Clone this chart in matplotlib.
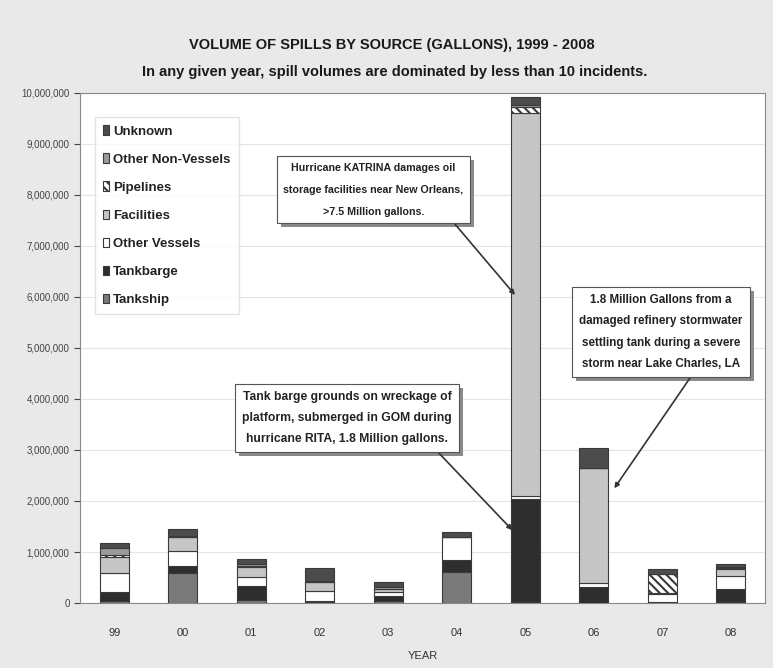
import numpy as np
import matplotlib
matplotlib.use('Agg')
import matplotlib.pyplot as plt
from matplotlib.ticker import FuncFormatter
from matplotlib.patches import Rectangle
from matplotlib.transforms import IdentityTransform

years = ['99', '00', '01', '02', '03', '04', '05', '06', '07', '08']
sources = ['Tankship', 'Tankbarge', 'Other Vessels', 'Facilities', 'Pipelines', 'Other Non-Vessels', 'Unknown']

# gallons
tankship      = [30000, 580000, 60000, 20000, 40000, 610000, 20000, 0, 0, 20000]
tankbarge     = [180000, 140000, 270000, 20000, 100000, 230000, 2020000, 310000, 20000, 260000]
other_vessels = [370000, 300000, 180000, 200000, 80000, 450000, 60000, 80000, 150000, 240000]
facilities    = [330000, 280000, 200000, 170000, 60000, 0, 7500000, 2250000, 30000, 140000]
pipelines     = [30000, 0, 20000, 0, 0, 0, 120000, 0, 370000, 20000]
non_vessels   = [140000, 20000, 30000, 20000, 30000, 0, 50000, 0, 0, 20000]
unknown       = [100000, 130000, 100000, 250000, 100000, 100000, 150000, 390000, 100000, 60000]

series = [tankship, tankbarge, other_vessels, facilities, pipelines, non_vessels, unknown]
colors = ['#7a7a7a', '#2e2e2e', '#ffffff', '#c6c6c6', '#ffffff', '#9a9a9a', '#4c4c4c']
hatches = [None, None, None, None, '\\\\\\\\', None, None]

plt.rcParams['font.family'] = ['Liberation Sans', 'DejaVu Sans']
plt.rcParams['hatch.linewidth'] = 1.5

fig = plt.figure(figsize=(7.73, 6.68), dpi=100)
fig.patch.set_facecolor('#e9e9e9')
ax = fig.add_axes([0.1035, 0.0973, 0.8862, 0.7635])
ax.set_facecolor('white')

x = np.arange(len(years))
bottom = np.zeros(len(years))
handles = []
for name, vals, c, h in zip(sources, series, colors, hatches):
    b = ax.bar(x, vals, 0.42, bottom=bottom, color=c, edgecolor='#3a3a3a',
               linewidth=0.8, hatch=h, label=name, zorder=3)
    handles.append(b)
    bottom += np.array(vals)

ax.set_xlim(-0.5, len(years) - 0.5)
ax.set_ylim(0, 10000000)
ax.set_yticks(np.arange(0, 10000001, 1000000))
ax.yaxis.set_major_formatter(FuncFormatter(lambda v, p: f'{int(v):,}'))
ax.set_xticks(x)
ax.set_xticklabels(years)
ax.tick_params(axis='y', labelsize=7, colors='#444444', length=4, width=0.8)
ax.tick_params(axis='x', labelsize=8, colors='#333333', length=0, pad=18)
ax.grid(axis='y', color='#e4e4e4', linewidth=0.8, zorder=0)
for s in ax.spines.values():
    s.set_color('#888888')
    s.set_linewidth(0.8)
ax.set_xlabel('YEAR', fontsize=8, color='#333333', labelpad=9)

fig.text(0.507, 0.933, 'VOLUME OF SPILLS BY SOURCE (GALLONS), 1999 - 2008',
         ha='center', va='center', fontsize=10.5, fontweight='bold', color='#1a1a1a')
fig.text(0.511, 0.892, 'In any given year, spill volumes are dominated by less than 10 incidents.',
         ha='center', va='center', fontsize=10.5, fontweight='bold', color='#1a1a1a')

leg = ax.legend(handles[::-1], sources[::-1], loc='upper left',
                bbox_to_anchor=(0.012, 0.965), fontsize=9.5, frameon=True,
                fancybox=False, edgecolor='#dddddd', handlelength=0.5,
                handleheight=0.7, handletextpad=0.3, labelspacing=1.2,
                borderpad=0.6)
for t in leg.get_texts():
    t.set_fontweight('bold')
    t.set_color('#222222')

notes = [
    ('Hurricane KATRINA damages oil\nstorage facilities near New Orleans,\n>7.5 Million gallons.',
     (5.85, 6040000), (3.78, 8100000), (0.92, 0), 7.7, 2.5),
    ('1.8 Million Gallons from a\ndamaged refinery stormwater\nsettling tank during a severe\nstorm near Lake Charles, LA',
     (7.3, 2250000), (7.98, 5310000), (0.71, 0), 8.4, 2.05),
    ('Tank barge grounds on wreckage of\nplatform, submerged in GOM during\nhurricane RITA, 1.8 Million gallons.',
     (5.81, 1430000), (3.4, 3630000), (0.9, 0), 8.7, 2.0),
]
anns = []
for txt, xy, xyt, rp, fs, ls in notes:
    a = ax.annotate(txt, xy=xy, xytext=xyt, ha='center', va='center',
                    fontsize=fs, fontweight='bold', color='#222222', linespacing=ls,
                    zorder=6,
                    bbox=dict(boxstyle='square,pad=0.6', fc='white', ec='#555555', lw=0.8),
                    arrowprops=dict(arrowstyle='-|>', color='#333333', lw=1.2,
                                    mutation_scale=7, shrinkA=0, shrinkB=0, relpos=rp))
    anns.append(a)

# drop shadows behind the note boxes
fig.canvas.draw()
for a in anns:
    ext = a.get_bbox_patch().get_window_extent()
    ax.add_patch(Rectangle((ext.x0 + 4, ext.y0 - 4), ext.width, ext.height,
                           transform=IdentityTransform(), fc='#8a8a8a', ec='none',
                           zorder=5, clip_on=False))

fig.savefig('out.png', dpi=100, facecolor=fig.get_facecolor())
